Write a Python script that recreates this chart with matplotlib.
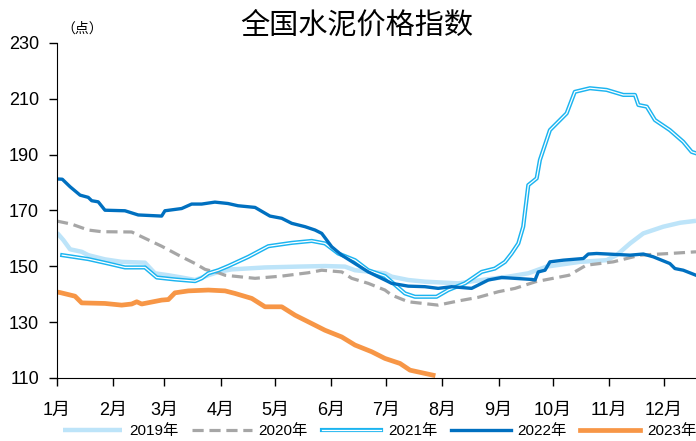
import matplotlib.pyplot as plt
import matplotlib.patheffects as pe

plt.rcParams['font.family'] = ['Liberation Sans', 'Noto Sans CJK SC']

# 数据：年内天数 / 指数值
x2019 = [1, 1.7, 4.5, 8.2, 14.6, 18.2, 27.4, 36.6, 49.4, 54.9, 62.3, 69.6, 77, 84.3, 89.8,
         97.1, 115.5, 133.8, 148.5, 159.5, 165, 181.5, 185.2, 194.3, 203.5, 221.9, 234.7,
         249.4, 260.4, 270.5, 288.8, 303.5, 309, 316.4, 323.7, 334.7, 343.9, 352.7]
y2019 = [161.9, 161.5, 159.4, 156.1, 155.2, 154.0, 152.5, 151.6, 151.3, 147.5, 146.8, 146.0,
         145.1, 146.8, 148.0, 148.9, 149.6, 149.9, 150.1, 149.9, 148.6, 147.5, 146.3, 145.1,
         144.5, 143.9, 145.1, 146.3, 147.5, 149.9, 151.6, 152.2, 154.0, 158.2, 161.8, 164.2,
         165.6, 166.3]

x2020 = [1, 9.1, 18.2, 25.6, 42.1, 47.6, 58.6, 69.6, 77, 82.5, 89.8, 93.5, 110, 124.7, 139.3,
         146.7, 157.7, 163.2, 172.3, 181.5, 185.2, 194.3, 210.8, 221.9, 232.9, 243.9, 253.1,
         264.5, 282.8, 292.3, 307.2, 321.9, 338.3, 352.7]
y2020 = [166.2, 165.1, 163.0, 162.4, 162.3, 160.6, 157.2, 153.4, 151.0, 148.9, 147.7, 146.8,
         145.7, 146.5, 147.7, 148.6, 148.0, 145.7, 143.9, 141.5, 139.7, 137.3, 136.1, 137.6,
         138.9, 140.9, 142.1, 144.5, 146.8, 150.4, 151.6, 154.0, 154.6, 155.2]

x2021 = [3.9, 18.2, 29.2, 38.4, 49.4, 55.9, 65.9, 77, 80.6, 84.3, 89.8, 95.3, 106.3, 117.3,
         130.2, 141.2, 148.5, 155.8, 165, 172.3, 181.5, 192.5, 198, 209.9, 216.3, 225.5, 234.7,
         242, 247.6, 251.2, 254.9, 257.6, 260.4, 265, 266.8, 268.6, 272.3, 281.5, 286, 294.3,
         303.5, 312.7, 319.1, 321, 325.6, 330.1, 338.3, 345.7, 350.3, 352.7]
y2021 = [154.0, 152.6, 151.0, 149.6, 149.6, 146.0, 145.3, 144.7, 145.7, 147.5, 148.6, 150.1,
         153.4, 157.2, 158.4, 159.1, 158.2, 154.6, 152.2, 148.6, 146.5, 140.3, 139.1, 139.1,
         141.5, 143.9, 148.0, 149.2, 151.6, 154.6, 158.2, 164.2, 179.1, 181.5, 188.1, 191.6,
         198.8, 204.8, 212.5, 213.8, 213.2, 211.4, 211.4, 207.8, 207.2, 202.4, 198.8, 194.6,
         191.0, 190.5]

x2022 = [1, 3.9, 8.2, 13.7, 18.2, 20.1, 23.7, 27.4, 38.4, 45.7, 58.6, 60.4, 69.6, 75.1, 80.6,
         87.9, 95.1, 100.6, 110, 118.2, 124.7, 130.2, 137.5, 143, 146.7, 152.2, 157.7, 165,
         172.3, 181.5, 185.2, 194.3, 203.5, 210.8, 218.2, 229.2, 238.4, 245.7, 262.3, 264.1,
         265.9, 269.6, 272.3, 279.6, 290.7, 293.4, 298, 307.2, 316.4, 323.7, 329.2, 338.3,
         341.1, 345.7, 352.7]
y2022 = [181.3, 181.2, 178.5, 175.5, 174.7, 173.5, 173.1, 170.1, 169.9, 168.4, 168.0, 169.9,
         170.7, 172.3, 172.3, 173.0, 172.5, 171.7, 171.1, 168.0, 167.2, 165.4, 164.2, 163.0,
         161.8, 157.0, 154.0, 151.0, 148.0, 145.1, 143.9, 142.9, 142.7, 142.1, 142.7, 142.1,
         145.1, 146.0, 145.3, 145.1, 148.0, 148.6, 151.6, 152.2, 152.8, 154.4, 154.6, 154.3,
         154.0, 154.4, 153.4, 151.0, 149.2, 148.6, 146.8]

x2023 = [1, 2.7, 10.9, 14.6, 27.4, 36.6, 42.1, 44.9, 47.6, 58.6, 62.3, 65.9, 73.3, 84.3, 93.5,
         98.9, 108.2, 115.5, 124.7, 132, 141.2, 148.5, 157.7, 165, 174.2, 181.5, 189.8, 195.3,
         208]
y2023 = [140.8, 140.6, 139.3, 136.9, 136.7, 136.1, 136.5, 137.3, 136.5, 137.9, 138.1, 140.5,
         141.2, 141.5, 141.2, 140.3, 138.5, 135.5, 135.5, 132.5, 129.5, 127.1, 124.7, 121.8,
         119.4, 117.0, 115.2, 112.8, 111.0]

month_days = [1, 32, 60, 91, 121, 152, 182, 213, 244, 274, 305, 335]
month_labels = [f"{i}月" for i in range(1, 13)]

fig = plt.figure(figsize=(6.96, 4.41), dpi=100)
ax = fig.add_axes([0.0819, 0.1429, 0.9181, 0.7596])

ax.plot(x2019, y2019, color='#BDE4F9', lw=3.2, label='2019年', solid_capstyle='butt')
ax.plot(x2020, y2020, color='#A6A6A6', lw=2.3, ls=(0, (3.5, 1.8)), label='2020年')
ax.plot(x2021, y2021, color='white', lw=0.9, label='2021年',
        path_effects=[pe.Stroke(linewidth=3.0, foreground='#1BB4F0'), pe.Normal()])
ax.plot(x2022, y2022, color='#0070C0', lw=2.4, label='2022年')
ax.plot(x2023, y2023, color='#F79646', lw=3.4, label='2023年')

ax.set_xlim(1, 352.7)
ax.set_ylim(110, 230)
ax.set_yticks(range(110, 231, 20))
ax.set_xticks(month_days)
ax.set_xticklabels(month_labels)
ax.tick_params(axis='both', labelsize=13, direction='out', length=6, width=1)
ax.tick_params(axis='x', pad=11)
ax.tick_params(axis='y', pad=7)
for s in ['top', 'right']:
    ax.spines[s].set_visible(False)

fig.text(0.513, 0.942, '全国水泥价格指数', ha='center', va='center', fontsize=21,
         family=['Noto Sans CJK SC'])
fig.text(0.088, 0.935, '（点）', ha='left', va='center', fontsize=10,
         family=['Noto Sans CJK SC'])

ax.legend(loc='center left', bbox_to_anchor=(0.09, 0.022), bbox_transform=fig.transFigure,
          ncol=5, frameon=False, fontsize=11, handlelength=3.9, handletextpad=0.45,
          columnspacing=0.9, borderpad=0, borderaxespad=0)

fig.savefig('out.png', dpi=100)
